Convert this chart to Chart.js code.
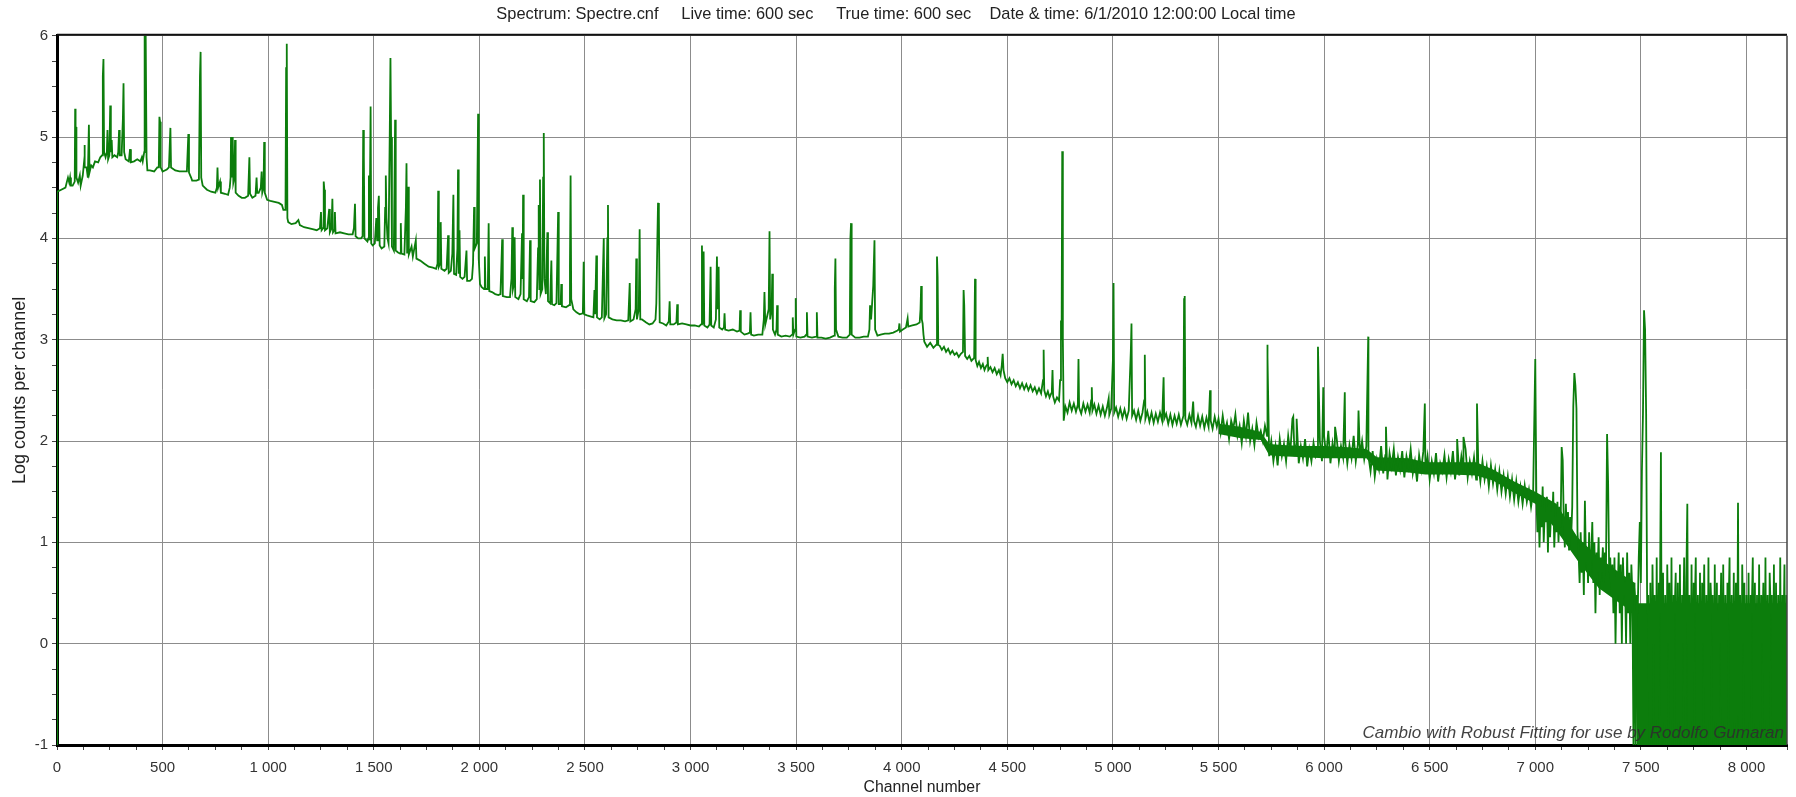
<!DOCTYPE html>
<html>
<head>
<meta charset="utf-8">
<title>Spectrum: Spectre.cnf</title>
<script src="https://cdn.jsdelivr.net/npm/chart.js@4.4.1/dist/chart.umd.min.js"></script>
<style>
  html, body { margin: 0; padding: 0; background: #fff; }
  #wrap { width: 1796px; height: 797px; }
</style>
</head>
<body>
<div id="wrap"><canvas id="chart" width="1796" height="797"></canvas></div>
<script>
// =============================================
//   Gamma spectrum - log counts per channel
// =============================================

const titleText = 'Spectrum: Spectre.cnf     Live time: 600 sec     True time: 600 sec    Date & time: 6/1/2010 12:00:00 Local time';
const xTitle = 'Channel number';
const yTitle = 'Log counts per channel';
const watermarkText = 'Cambio with Robust Fitting for use by Rodolfo Gumaran';

const channelMax = 8192;
const yTicks = [-1, 0, 1, 2, 3, 4, 5, 6];

// ── Spectrum: [channel, log counts] ──
const spectrumA = [
  [0,-1],[1,4.46],[20,4.48],[40,4.5],[47,4.56],[52,4.6],[58,4.55],[62,4.6],[66,4.52],[74,4.52],
  [84,4.56],[86,5.28],[88,4.8],[90,5.1],[92,4.6],[100,4.55],[108,4.62],[112,4.52],
  [122,4.62],[128,4.75],[130,4.92],[132,4.7],[140,4.7],[146,4.6],[151,5.12],[154,4.65],[162,4.72],
  [170,4.7],[180,4.76],[195,4.75],[205,4.8],[214,4.82],[217,5.6],[220,5.77],[223,4.85],
  [230,4.8],[236,4.85],[239,5.07],[242,4.78],[248,4.82],[252,5.31],[255,4.85],[259,4.97],[262,4.8],
  [272,4.82],[285,4.8],[290,4.85],[294,5.07],[297,4.82],[306,4.82],[312,5.18],[315,5.53],[318,4.85],
  [325,4.78],[340,4.76],[346,4.88],[350,4.75],[365,4.76],[380,4.78],[395,4.76],[402,4.8],[406,4.76],
  [413,4.85],[415,6],[420,6],[424,4.8],[428,4.67],[440,4.67],[460,4.66],[475,4.7],[482,4.7],
  [485,5.2],[488,5.15],[491,4.7],[500,4.66],[520,4.68],[530,4.7],[537,5.09],[540,4.7],[560,4.67],
  [580,4.66],[600,4.66],[615,4.66],[622,5.03],[625,4.65],[635,4.6],[640,4.57],[660,4.57],[672,4.58],
  [677,5.6],[680,5.84],[683,4.6],[690,4.52],[710,4.48],[730,4.46],[750,4.45],[757,4.5],[760,4.7],
  [763,4.5],[772,4.56],[776,4.45],[795,4.44],[810,4.43],[818,4.5],[822,4.6],[824,5.0],[827,4.6],
  [832,5.0],[835,4.55],[840,4.6],[843,4.97],[846,4.45],[860,4.42],[875,4.4],[890,4.4],[905,4.42],
  [911,4.8],[914,4.44],[925,4.4],[940,4.42],[945,4.6],[948,4.45],[955,4.45],[965,4.5],[969,4.66],
  [972,4.45],[978,4.5],[981,4.95],[984,4.45],[995,4.38],[1010,4.37],[1030,4.36],[1050,4.35],
  [1065,4.33],[1072,4.28],[1082,4.28],[1085,5.68],[1088,5.92],[1091,4.2],[1095,4.16],[1110,4.14],
  [1130,4.15],[1143,4.18],[1150,4.13],[1170,4.11],[1190,4.1],[1210,4.09],[1230,4.08],[1245,4.1],
  [1250,4.26],[1253,4.08],[1260,4.1],[1263,4.56],[1266,4.48],[1269,4.08],[1280,4.1],[1289,4.29],
  [1292,4.06],[1300,4.1],[1304,4.39],[1307,4.06],[1313,4.08],[1316,4.26],[1319,4.05],[1340,4.06],
  [1360,4.05],[1380,4.04],[1400,4.04],[1406,4.1],[1411,4.34],[1414,4.02],[1426,4.0]
];

const spectrumB = [
  [1440,4.0],[1447,4.02],[1450,5.07],[1453,4.8],[1456,4.0],[1470,3.97],[1474,4.0],[1477,4.62],
  [1480,3.98],[1485,5.3],[1488,3.95],[1495,3.93],[1505,3.95],[1512,4.2],[1516,3.98],[1520,4.3],
  [1524,4.42],[1528,3.93],[1537,3.9],[1550,3.92],[1554,4.3],[1557,4.62],[1560,4.2],[1565,4.0],
  [1570,3.95],[1576,5.1],[1579,5.78],[1582,5.0],[1586,3.92],[1595,3.88],[1598,4.5],[1601,5.17],
  [1604,3.88],[1615,3.86],[1625,3.85],[1628,4.15],[1631,3.85],[1645,3.84],[1652,4.3],[1655,4.74],
  [1658,3.85],[1663,4.51],[1666,3.84],[1679,3.92],[1685,3.82],[1699,3.98],[1702,3.8],[1720,3.78],
  [1740,3.75],[1760,3.72],[1780,3.71],[1795,3.7],[1802,3.75],[1805,4.47],[1808,3.72],[1814,3.75],
  [1817,4.16],[1820,3.7],[1835,3.68],[1845,3.7],[1852,4.03],[1855,3.66],[1865,3.68],[1872,3.85],
  [1877,4.43],[1880,3.65],[1890,3.64],[1896,3.9],[1899,4.68],[1902,3.65],[1906,4.08],[1909,3.62],
  [1920,3.6],[1930,3.62],[1939,3.88],[1942,3.58],[1955,3.58],[1965,3.6],[1970,3.75],[1975,4.31],
  [1978,3.9],[1988,3.95],[1991,4.6],[1994,5.23],[1997,3.8],[2003,3.55],[2010,3.52],[2022,3.5],
  [2026,3.82],[2029,3.5],[2040,3.5],[2044,4.15],[2047,3.48],[2060,3.47],[2075,3.45],[2090,3.44],
  [2100,3.45],[2108,3.99],[2111,3.43],[2130,3.42],[2145,3.42],[2152,3.6],[2156,4.11],[2159,3.5],
  [2164,3.55],[2167,4.01],[2170,3.42],[2185,3.4],[2195,3.45],[2202,4.05],[2205,3.6],[2207,4.43],
  [2210,3.4],[2225,3.38],[2235,3.42],[2240,3.98],[2243,3.38],[2260,3.37],[2272,3.4],[2278,3.9],
  [2281,4.33],[2284,3.5],[2287,4.58],[2290,3.45],[2298,3.5],[2302,4.6],[2305,5.04],[2308,3.6],
  [2315,3.45],[2322,4.06],[2325,3.38],[2335,3.36],[2341,3.78],[2344,3.35],[2355,3.34],[2365,3.36],
  [2370,3.9],[2373,4.26],[2376,3.35],[2385,3.35],[2388,3.55],[2391,3.33],[2410,3.32],[2425,3.34],
  [2429,3.72],[2432,4.62],[2435,3.4],[2445,3.3],[2460,3.27],[2475,3.25],[2490,3.26],[2494,3.77],
  [2497,3.25],[2510,3.24],[2525,3.23],[2540,3.22],[2545,3.49],[2548,3.25],[2554,3.83],[2557,3.22],
  [2570,3.2],[2580,3.22],[2589,4.0],[2592,3.21],[2600,3.25],[2606,4.0],[2609,4.33],[2612,3.22],
  [2630,3.2],[2650,3.19],[2670,3.19],[2690,3.18],[2705,3.19],[2712,3.56],[2715,3.18],[2730,3.2],
  [2740,3.3],[2743,3.8],[2746,3.2],[2755,3.3],[2759,4.09],[2762,3.2],[2770,3.2]
];

const spectrumC = [
  [2790,3.17],[2805,3.15],[2820,3.16],[2834,3.2],[2838,3.36],[2843,4.0],[2846,4.35],[2850,4.24],
  [2854,3.17],[2870,3.16],[2885,3.14],[2897,3.18],[2901,3.38],[2904,3.15],[2920,3.15],[2933,3.17],
  [2937,3.35],[2940,3.15],[2960,3.16],[2980,3.15],[3000,3.14],[3020,3.14],[3040,3.13],[3050,3.15],
  [3054,3.93],[3058,3.15],[3062,3.87],[3065,3.14],[3080,3.12],[3090,3.15],[3095,3.72],[3098,3.14],
  [3110,3.12],[3120,3.2],[3125,3.82],[3128,3.3],[3133,3.72],[3136,3.12],[3150,3.1],[3158,3.12],
  [3161,3.26],[3164,3.1],[3180,3.09],[3200,3.1],[3220,3.08],[3232,3.09],[3235,3.29],[3238,3.08],
  [3255,3.05],[3270,3.06],[3281,3.07],[3284,3.27],[3287,3.05],[3300,3.04],[3320,3.05],[3340,3.05],
  [3347,3.2],[3350,3.47],[3354,3.15],[3370,3.3],[3374,4.07],[3377,3.2],[3384,3.3],[3387,3.65],
  [3390,3.1],[3400,3.05],[3407,3.1],[3410,3.34],[3413,3.05],[3430,3.03],[3450,3.04],[3470,3.03],
  [3481,3.05],[3484,3.22],[3487,3.05],[3495,3.1],[3498,3.41],[3501,3.03],[3520,3.02],[3540,3.03],
  [3548,3.05],[3551,3.27],[3554,3.03],[3575,3.02],[3595,3.03],[3598,3.27],[3601,3.02],[3620,3.02],
  [3640,3.01],[3660,3.02],[3680,3.04],[3683,3.5],[3686,3.8],[3689,3.1],[3700,3.03],[3720,3.02],
  [3740,3.02],[3754,3.05],[3757,4.0],[3760,4.15],[3763,3.05],[3780,3.02],[3800,3.02],[3820,3.03],
  [3840,3.03],[3847,3.1],[3850,3.34],[3855,3.2],[3865,3.53],[3871,3.98],[3874,3.1],[3885,3.04],
  [3900,3.05],[3920,3.06],[3940,3.06],[3960,3.07],[3980,3.09],[3986,3.1],[3989,3.16],[3992,3.08],
  [4005,3.1],[4020,3.12],[4028,3.21],[4031,3.13],[4050,3.14],[4070,3.15],[4085,3.17],[4089,3.3],
  [4092,3.53],[4095,3.2],[4099,3.16],[4103,3.05],[4107,2.98],[4120,2.93],[4135,2.97],[4150,2.92]
];

const spectrumD = [
  [4164,2.95],[4167,3.82],[4170,3.62],[4173,2.95],[4180,2.94],[4190,2.9],[4200,2.93],[4210,2.88],
  [4220,2.91],[4230,2.86],[4240,2.89],[4250,2.85],[4260,2.87],[4270,2.83],[4280,2.86],[4290,2.88],
  [4293,3.49],[4296,3.34],[4300,2.84],[4310,2.81],[4320,2.84],[4330,2.79],[4343,2.82],[4347,3.6],
  [4350,2.8],[4358,2.74],[4366,2.78],[4375,2.72],[4384,2.76],[4392,2.7],[4400,2.74],[4404,2.75],
  [4407,2.83],[4410,2.7],[4420,2.73],[4430,2.68],[4440,2.72],[4450,2.66],[4460,2.7],[4468,2.65],
  [4474,2.75],[4478,2.86],[4482,2.7],[4490,2.62],[4500,2.58],[4510,2.62],[4520,2.56],[4530,2.6],
  [4540,2.54],[4550,2.58],[4560,2.52],[4570,2.57],[4580,2.51],[4590,2.56],[4600,2.5],[4610,2.55],
  [4620,2.49],[4630,2.53],[4640,2.47],[4650,2.52],[4660,2.47],[4669,2.6],[4672,2.9],[4675,2.5],
  [4683,2.44],[4692,2.49],[4700,2.43],[4708,2.47],[4711,2.5],[4714,2.7],[4717,2.44],[4725,2.38],
  [4735,2.43],[4745,2.4],[4750,2.6],[4754,3.19],[4757,3.0],[4760,4.86],[4763,3.0],[4767,2.2],
  [4775,2.34],[4785,2.28],[4795,2.38],[4805,2.3],[4815,2.37],[4825,2.29],[4834,2.36],[4837,2.81],
  [4840,2.33],[4850,2.27],[4860,2.37],[4870,2.29],[4880,2.36],[4890,2.28],[4897,2.4],[4900,2.53],
  [4903,2.3],[4912,2.36],[4922,2.27],[4932,2.35],[4942,2.26],[4952,2.34],[4962,2.25],[4972,2.33],
  [4980,2.42],[4983,2.26],[4992,2.32],[5000,2.8],[5003,3.56],[5006,2.28],[5015,2.33],[5025,2.24],
  [5035,2.32],[5045,2.23],[5055,2.31],[5065,2.22],[5075,2.3],[5085,2.9],[5088,3.16],[5091,2.25],
  [5100,2.3],[5110,2.21],[5120,2.3],[5130,2.2],[5140,2.28],[5148,2.4],[5151,2.85],[5154,2.22],
  [5163,2.29],[5173,2.19],[5183,2.28],[5193,2.18],[5203,2.27],[5213,2.19],[5223,2.28],[5233,2.2],
  [5240,2.63],[5243,2.22],[5252,2.27],[5262,2.17],[5272,2.26],[5282,2.16],[5292,2.25],[5302,2.17],
  [5312,2.26],[5322,2.16],[5334,2.25],[5337,3.4],[5340,3.43],[5343,2.22],[5352,2.16],[5362,2.26],
  [5372,2.18],[5380,2.39],[5384,2.2],[5393,2.14],[5403,2.25],[5413,2.15],[5423,2.24],[5433,2.13],
  [5443,2.23],[5453,2.14],[5460,2.5],[5463,2.2],[5472,2.12],[5482,2.24],[5492,2.14]
];

// ── Noisy band 5500 – 6990, one reading every bandStep channels ──
const bandStart = 5500;
const bandStep = 10;
const bandValues = [
  2.22,2.08,2.25,2.1,2.18,2.02,2.2,2.12,2.26,2.05,2.15,1.98,2.2,2.05,2.28,2.0,2.12,1.96,2.18,2.04,
  2.1,2.0,2.15,2.05,
  1.85,2.0,1.8,1.95,1.76,2.02,1.85,1.97,1.8,2.05,1.88,2.22,1.85,2.0,1.78,1.95,1.83,2.02,1.75,1.92,1.8,1.98,1.85,
  1.9,2.0,1.8,2.05,1.85,2.1,1.78,1.98,1.85,2.02,1.8,1.95,1.84,2.0,1.78,1.96,1.83,2.05,1.8,1.97,1.85,2.0,1.82,1.95,
  1.85,1.7,1.9,1.65,1.82,1.72,1.95,1.68,1.86,1.62,1.88,1.75,1.92,1.66,1.84,1.72,1.9,1.64,1.85,1.74,1.92,1.68,1.8,1.6,1.86,1.72,1.9,
  1.7,1.85,1.62,1.8,1.68,1.88,1.6,1.78,1.7,1.86,1.64,1.82,1.7,1.9,1.62,1.8,1.66,1.85,1.7,1.92,1.64,1.8,1.68,1.84,1.62,
  1.78,1.6,1.8,1.62,1.75,1.55,1.76,1.58,1.72,1.52,1.7,1.5,1.66,1.48,1.65,1.45,1.62,1.42,1.6,1.4,1.55,1.38,1.56,1.4,1.52,1.35,1.5
];
// peaks standing out of the band
const bandPeaks = [
  [5731,2.95],[5733,2.83],[5854,2.24],[5870,2.22],[5971,2.93],[5996,2.53],[6052,2.14],[6098,2.48],
  [6163,2.3],[6209,3.03],[6293,2.14],[6477,2.37],[6630,2.02],[6660,2.04],[6724,2.37],[7000,2.81]
];

// ── High-channel tail 7005 – 8190, one reading every tailStep channels ──
const tailStart = 7005;
const tailStep = 5;
const tailValues = [
  1.5,1.1,1.45,0.95,1.35,1.15,1.55,1.0,1.3,1.2,1.45,0.9,1.4,1.05,1.3,1.2,1.5,0.95,1.25,1.1,1.4,1.0,1.35,1.15,
  1.94,1.81,1.2,0.95,1.38,1.0,1.3,0.92,1.25,1.05,1.35,
  2.34,2.67,2.55,2.32,1.1,
  0.9,0.6,1.1,0.7,1.0,0.48,1.41,0.8,0.95,0.6,1.1,0.7,0.85,1.2,0.6,1.0,0.3,0.9,0.7,1.05,0.48,0.85,0.7,0.95,
  0.6,0.9,0.78,2.07,1.58,0.7,0.85,0.48,
  0.78,0.3,0.85,0,0.7,0.48,0.9,0.3,0.78,0,0.85,0.48,0.6,0,0.9,0.3,0.7,0,0.78,0.48,
  -1,0.6,-1,0.48,0.3,0.85,1.2,0.6,
  1.71,2.27,3.29,3.1,2.27,0.3,
  0.48,-1,0.6,-1,0.78,0,0.48,-1,0.85,-1,0.6,0.3,
  1.89,-1,0.7,-1,0.48,-1,0.78,0,0.6,-1,0.85,-1,
  0.48,0.3,0.7,-1,0.6,-1,0.78,-1,0.48,0,0.85,-1,
  0.6,1.38,-1,0.48,-1,0.78,-1,0.6,0.3,0.85,-1,0.48,
  -1,0.7,-1,0.6,0,0.78,-1,0.48,-1,0.85,-1,0.6,
  0.3,0.48,-1,0.78,-1,0.6,-1,0.48,0,0.7,-1,0.78,
  -1,0.48,-1,0.6,0.3,0.85,-1,0.48,-1,0.7,-1,0.6,
  -1,1.39,-1,0.48,-1,0.78,0,0.6,-1,0.48,-1,0.7,
  -1,0.48,0.3,0.85,-1,0.6,-1,0.48,-1,0.78,-1,0.48,
  0,0.6,-1,0.85,-1,0.48,-1,0.7,0.3,0.48,-1,0.78,
  -1,0.6,-1,0.48,-1,0.85,-1,0.48,0,0.78,-1,0.48
];

// ── Solid core of the noise band (inner edges) ──
const bandUpper = [
  [5500,2.17],[5600,2.14],[5700,2.09],[5740,1.97],[5800,1.96],[5900,1.95],[6000,1.95],[6100,1.94],
  [6200,1.92],[6250,1.84],[6400,1.83],[6480,1.79],[6600,1.79],[6720,1.79],[6800,1.72],[6900,1.6],
  [7000,1.5],[7100,1.38],[7200,1.05],[7300,0.85],[7400,0.7],[7470,0.6],[7480,0.4],[7600,0.4],
  [7800,0.4],[8000,0.4],[8192,0.4]
];
const bandLower = [
  [5500,2.07],[5600,2.03],[5700,2.01],[5740,1.86],[5800,1.85],[5900,1.84],[6000,1.83],[6100,1.83],
  [6200,1.83],[6250,1.71],[6400,1.69],[6480,1.67],[6600,1.67],[6720,1.66],[6800,1.61],[6900,1.49],
  [7000,1.38],[7100,1.12],[7200,0.82],[7300,0.55],[7400,0.4],[7470,0.3],[7480,-1],[7600,-1],
  [7800,-1],[8000,-1],[8192,-1]
];

// ── Build the point lists ────────────────────
function pairs(list) {
  return list.map(p => ({ x: p[0], y: p[1] }));
}
function stepped(start, step, values) {
  return values.map((v, i) => ({ x: start + i * step, y: v }));
}

const bandPoints = stepped(bandStart, bandStep, bandValues)
  .concat(pairs(bandPeaks))
  .sort((a, b) => a.x - b.x);

const points = [].concat(
  pairs(spectrumA), pairs(spectrumB), pairs(spectrumC), pairs(spectrumD),
  bandPoints,
  stepped(tailStart, tailStep, tailValues)
);

// ── Helpers ──────────────────────────────────
function channelLabel(v) {
  if (v % 500 !== 0) return '';
  if (v < 1000) return String(v);
  const rest = String(v % 1000).padStart(3, '0');
  return Math.floor(v / 1000) + ' ' + rest;
}

const green = '#0c7d0c';
const sans = "'Liberation Sans', Arial, sans-serif";
const tickFont = { family: "'Liberation Sans Narrow', 'Liberation Sans', Arial, sans-serif", size: 15 };
const gridGray = '#8c8c8c';

// frame: heavy top rule and right edge
const framePlugin = {
  id: 'frame',
  afterDraw(chart) {
    const { ctx, chartArea } = chart;
    ctx.save();
    ctx.strokeStyle = '#111';
    ctx.lineWidth = 2;
    ctx.beginPath();
    ctx.moveTo(chartArea.left, chartArea.top - 1);
    ctx.lineTo(chartArea.right, chartArea.top - 1);
    ctx.stroke();
    ctx.strokeStyle = '#444';
    ctx.lineWidth = 1.5;
    ctx.beginPath();
    ctx.moveTo(chartArea.right, chartArea.top);
    ctx.lineTo(chartArea.right, chartArea.bottom);
    ctx.stroke();
    ctx.restore();
  }
};

// credit line in the lower right corner
const watermarkPlugin = {
  id: 'watermark',
  afterDatasetsDraw(chart) {
    const { ctx, chartArea } = chart;
    ctx.save();
    ctx.font = "italic 17px 'Liberation Sans', Arial, sans-serif";
    ctx.fillStyle = 'rgba(45,45,45,0.9)';
    ctx.textAlign = 'right';
    ctx.textBaseline = 'alphabetic';
    ctx.fillText(watermarkText, chartArea.right - 3, chartArea.bottom - 7);
    ctx.restore();
  }
};

// ── Chart ────────────────────────────────────
const ctx = document.getElementById('chart').getContext('2d');

new Chart(ctx, {
  type: 'line',
  data: {
    datasets: [{
      label: 'Spectre.cnf',
      data: points,
      borderColor: green,
      borderWidth: 1.8,
      pointRadius: 0,
      tension: 0,
      fill: false
    }, {
      label: 'band upper',
      data: pairs(bandUpper),
      borderWidth: 0,
      borderColor: 'rgba(0,0,0,0)',
      backgroundColor: green,
      pointRadius: 0,
      tension: 0,
      fill: '+1'
    }, {
      label: 'band lower',
      data: pairs(bandLower),
      borderWidth: 0,
      borderColor: 'rgba(0,0,0,0)',
      pointRadius: 0,
      tension: 0,
      fill: false
    }]
  },
  options: {
    responsive: false,
    devicePixelRatio: 1,
    animation: false,
    parsing: false,
    normalized: true,
    layout: { padding: { left: 0, right: 4, top: 0, bottom: 0 } },
    plugins: {
      legend: { display: false },
      tooltip: { enabled: false },
      title: {
        display: true,
        text: titleText,
        color: '#222',
        font: { family: sans, size: 16.4, weight: 'normal' },
        padding: { top: 5, bottom: 11 }
      }
    },
    scales: {
      x: {
        type: 'linear',
        min: 0,
        max: channelMax,
        afterFit: (scale) => { scale.height = 52; },
        ticks: {
          stepSize: 125,
          autoSkip: false,
          maxRotation: 0,
          padding: 9,
          color: '#333',
          font: tickFont,
          callback: (v) => channelLabel(v)
        },
        grid: {
          color: (c) => (c.tick && c.tick.value % 500 === 0 ? gridGray : 'rgba(0,0,0,0)'),
          tickColor: '#444',
          tickLength: 5,
          lineWidth: 1
        },
        border: { display: true, color: '#000', width: 3 },
        title: {
          display: true,
          text: xTitle,
          color: '#222',
          font: { family: sans, size: 15.8 },
          padding: { top: 2, bottom: 0 }
        }
      },
      y: {
        min: yTicks[0],
        max: yTicks[yTicks.length - 1],
        afterFit: (scale) => { scale.width = 57; },
        ticks: {
          stepSize: 0.25,
          autoSkip: false,
          padding: 4,
          color: '#333',
          font: tickFont,
          callback: (v) => (yTicks.includes(v) ? String(v) : '')
        },
        grid: {
          color: (c) => (c.tick && Number.isInteger(c.tick.value) ? gridGray : 'rgba(0,0,0,0)'),
          tickColor: '#444',
          tickLength: 5,
          lineWidth: 1
        },
        border: { display: true, color: '#000', width: 3 },
        title: {
          display: true,
          text: yTitle,
          color: '#222',
          font: { family: sans, size: 18 },
          padding: { top: 9, bottom: 0 }
        }
      }
    }
  },
  plugins: [framePlugin, watermarkPlugin]
});
</script>
</body>
</html>
